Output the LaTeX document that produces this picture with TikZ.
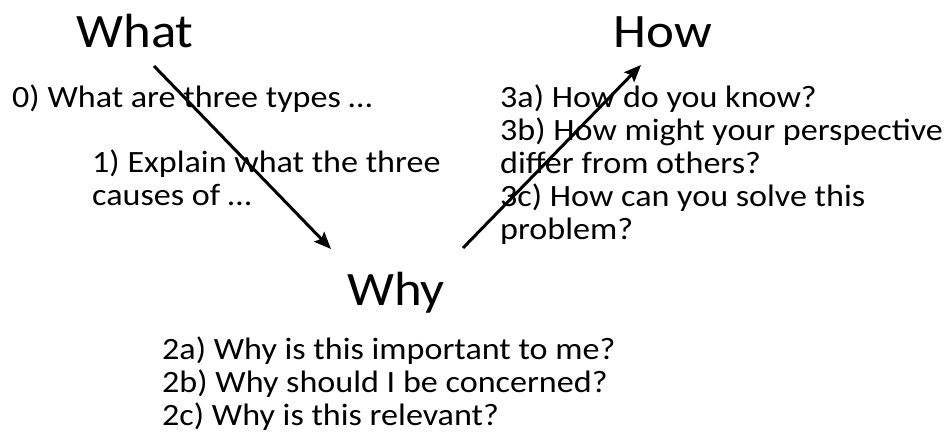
\documentclass[tikz,border=0pt]{standalone}
\usepackage{fontspec}
\setmainfont[FakeStretch=1.1]{Carlito}
\usetikzlibrary{arrows.meta}
\begin{document}
\begin{tikzpicture}[x=1pt,y=1pt,
  big/.style={font=\fontsize{48}{58}\selectfont, inner sep=0pt, anchor=base},
  small/.style={font=\fontsize{31}{33}\selectfont, inner sep=0pt, anchor=base west, align=left},
  arr/.style={line width=3pt, -{Stealth[length=17pt,width=14pt,inset=3pt]}}]
\useasboundingbox[fill=white] (0,0) rectangle (952,-447);
\node[big] (what) at (135,-47) {What};
\node[big] (how) at (663,-47) {How};
\node[big] (why) at (396,-305) {Why};
\node[small] (q0) at (12,-107) {0) What are three types …};
\node[small] (q1) at (92,-205) {1) Explain what the three\\causes of …};
\node[small] (q3) at (500,-239) {3a) How do you know?\\3b) How might your perspective\\differ from others?\\3c) How can you solve this\\problem?};
\node[small] (q2) at (162,-425) {2a) Why is this important to me?\\2b) Why should I be concerned?\\2c) Why is this relevant?};
\coordinate (a1s) at (154,-66);
\coordinate (a1e) at (331,-249);
\coordinate (a2s) at (463,-248);
\coordinate (a2e) at (641,-65);
\draw[arr] (a1s) -- (a1e);
\draw[arr] (a2s) -- (a2e);
\end{tikzpicture}
\end{document}
